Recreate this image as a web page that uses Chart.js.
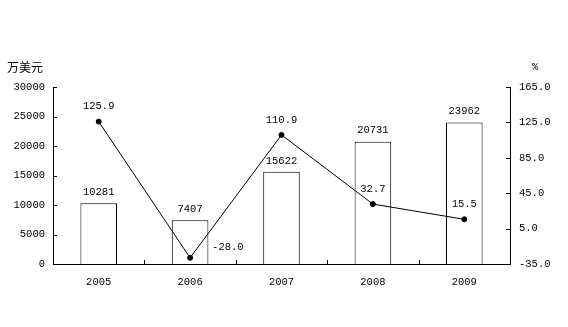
<!DOCTYPE html>
<html>
<head>
<meta charset="utf-8">
<script src="https://cdn.jsdelivr.net/npm/chart.js@4/dist/chart.umd.min.js"></script>
<style>
html,body{margin:0;padding:0;background:#fff;}
canvas{display:block;}
</style>
</head>
<body>
<canvas id="c" width="568" height="327"></canvas>
<script>
const categories = ['2005', '2006', '2007', '2008', '2009'];
const amountValues = [10281, 7407, 15622, 20731, 23962];
const growthValues = [125.9, -28.0, 110.9, 32.7, 15.5];
const leftTicks = [0, 5000, 10000, 15000, 20000, 25000, 30000];
const rightTicks = [-35, 5, 45, 85, 125, 165];
const leftUnit = '万美元';
const rightUnit = '%';

const FONT = 'Liberation Mono, DejaVu Sans Mono, monospace';
const FS = 10.5;

const overlay = {
  id: 'overlay',
  afterDatasetsDraw(chart) {
    const ctx = chart.ctx;
    const area = chart.chartArea;
    const x = chart.scales.x, y = chart.scales.y, y1 = chart.scales.y1;
    ctx.save();
    ctx.strokeStyle = '#000';
    ctx.lineWidth = 1;
    ctx.beginPath();
    leftTicks.forEach(v => {
      const py = Math.round(y.getPixelForValue(v)) + 0.5;
      ctx.moveTo(area.left, py); ctx.lineTo(area.left + 4, py);
    });
    rightTicks.forEach(v => {
      const py = Math.round(y1.getPixelForValue(v)) + 0.5;
      ctx.moveTo(area.right, py); ctx.lineTo(area.right - 4, py);
    });
    for (let i = 1; i < categories.length; i++) {
      const px = Math.round((x.getPixelForValue(i - 1) + x.getPixelForValue(i)) / 2) + 0.5;
      ctx.moveTo(px, area.bottom); ctx.lineTo(px, area.bottom - 4);
    }
    ctx.stroke();

    ctx.fillStyle = '#000';
    ctx.font = FS + 'px ' + FONT;
    ctx.textAlign = 'center';
    ctx.textBaseline = 'middle';
    const barMeta = chart.getDatasetMeta(0);
    barMeta.data.forEach((el, i) => {
      ctx.fillText(String(amountValues[i]), el.x, el.y - 11);
    });
    const lineMeta = chart.getDatasetMeta(1);
    lineMeta.data.forEach((el, i) => {
      const t = growthValues[i].toFixed(1);
      if (growthValues[i] < 0) {
        ctx.textAlign = 'left';
        ctx.fillText(t, el.x + 22, el.y - 11);
        ctx.textAlign = 'center';
      } else {
        ctx.fillText(t, el.x, el.y - 15);
      }
    });
    ctx.font = '12px "Noto Sans CJK SC", sans-serif';
    ctx.textAlign = 'left';
    ctx.fillText(leftUnit, 7, 67);
    ctx.font = FS + 'px ' + FONT;
    ctx.fillText(rightUnit, 532, 67);
    ctx.restore();
  }
};

new Chart(document.getElementById('c'), {
  data: {
    labels: categories,
    datasets: [
      {
        type: 'bar',
        data: amountValues,
        yAxisID: 'y',
        backgroundColor: '#fff',
        borderColor: '#000',
        borderWidth: 1,
        barPercentage: 0.4,
        categoryPercentage: 1,
        order: 2
      },
      {
        type: 'line',
        data: growthValues,
        yAxisID: 'y1',
        borderColor: '#000',
        borderWidth: 1,
        backgroundColor: '#000',
        pointRadius: 2.5,
        pointBackgroundColor: '#000',
        pointBorderColor: '#000',
        tension: 0,
        order: 1
      }
    ]
  },
  options: {
    responsive: false,
    animation: false,
    devicePixelRatio: 1,
    layout: { padding: { top: 87, left: 0, right: 0, bottom: 0 } },
    plugins: { legend: { display: false }, tooltip: { enabled: false } },
    scales: {
      x: {
        grid: { display: false, drawTicks: false },
        border: { display: true, color: '#000', width: 1 },
        ticks: { color: '#000', font: { family: FONT, size: FS }, padding: 12, maxRotation: 0 },
        afterFit(s) { s.height = 63; }
      },
      y: {
        position: 'left',
        min: 0, max: 30000,
        grid: { display: false, drawTicks: false },
        border: { display: true, color: '#000', width: 1 },
        ticks: { color: '#000', font: { family: FONT, size: FS }, padding: 8,
                 callback: v => String(v) },
        afterBuildTicks(s) { s.ticks = leftTicks.map(v => ({ value: v })); },
        afterFit(s) { s.width = 53; }
      },
      y1: {
        position: 'right',
        min: -35, max: 165,
        grid: { display: false, drawTicks: false },
        border: { display: true, color: '#000', width: 1 },
        ticks: { color: '#000', font: { family: FONT, size: FS }, padding: 9,
                 callback: v => Number(v).toFixed(1) },
        afterBuildTicks(s) { s.ticks = rightTicks.map(v => ({ value: v })); },
        afterFit(s) { s.width = 58; }
      }
    }
  },
  plugins: [overlay]
});
</script>
</body>
</html>
